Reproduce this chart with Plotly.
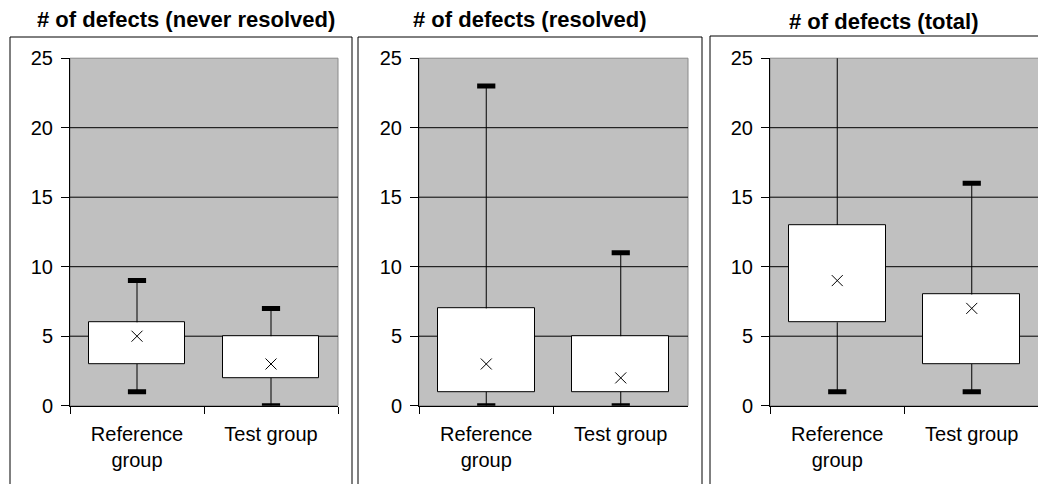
import plotly.graph_objects as go

# ---- data ----
categories = ["Reference<br>group", "Test group"]
panel_titles = ["# of defects (never resolved)", "# of defects (resolved)", "# of defects (total)"]

never_min = [1, 0]
never_q1 = [3, 2]
never_q3 = [6, 5]
never_max = [9, 7]
never_mark = [5, 3]

resolved_min = [0, 0]
resolved_q1 = [1, 1]
resolved_q3 = [7, 5]
resolved_max = [23, 11]
resolved_mark = [3, 2]

total_min = [1, 1]
total_q1 = [6, 3]
total_q3 = [13, 8]
total_max = [28, 16]   # reference-group maximum lies above the axis range
total_mark = [9, 7]

y_ticks = [0, 5, 10, 15, 20, 25]
grid_values = [5, 10, 15, 20]

panels = [
    (never_min, never_q1, never_q3, never_max, never_mark),
    (resolved_min, resolved_q1, resolved_q3, resolved_max, resolved_mark),
    (total_min, total_q1, total_q3, total_max, total_mark),
]

# ---- layout geometry (page pixels; the page body has an 8px margin) ----
OFF = 8
W, H = 1046 - OFF, 484 - OFF


def px(xp):
    return (xp - OFF) / W


def py(yp):
    return (H - (yp - OFF)) / H


plot_x = [(70, 338), (419, 688), (770, 1039)]
plot_y_top, plot_y_bot = 58.2, 405.7
frames = [(10, 352, 37), (358, 702, 37), (710, 1070, 36)]
title_x = [186, 530, 883]
title_y = [19, 19, 21]

FONT = "Liberation Sans, Arial, sans-serif"

fig = go.Figure()
shapes = []
annotations = []

for i, (mn, q1, q3, mx, mk) in enumerate(panels):
    xa = "x" if i == 0 else f"x{i+1}"
    ya = "y" if i == 0 else f"y{i+1}"

    # box body
    fig.add_trace(go.Bar(
        x=categories, y=[b - a for a, b in zip(q1, q3)], base=q1,
        width=0.72, marker=dict(color="white", line=dict(color="black", width=1)),
        xaxis=xa, yaxis=ya, showlegend=False, hoverinfo="skip"))

    # whiskers
    wx, wy = [], []
    for c, a, b, c1, d in zip(categories, mn, q1, q3, mx):
        wx += [c, c, None, c, c, None]
        wy += [c1, d, None, a, b, None]
    fig.add_trace(go.Scatter(
        x=wx, y=wy, mode="lines", line=dict(color="black", width=1),
        xaxis=xa, yaxis=ya, showlegend=False, hoverinfo="skip"))

    # caps
    fig.add_trace(go.Scatter(
        x=categories + categories, y=mn + mx, mode="markers",
        marker=dict(symbol="line-ew", size=13, line=dict(color="black", width=5)),
        xaxis=xa, yaxis=ya, showlegend=False, hoverinfo="skip"))

    # centre mark
    fig.add_trace(go.Scatter(
        x=categories, y=mk, mode="markers",
        marker=dict(symbol="x-thin", size=11, line=dict(color="black", width=1)),
        xaxis=xa, yaxis=ya, showlegend=False, hoverinfo="skip"))

    x0, x1 = plot_x[i]
    dom_x = [px(x0), px(x1)]
    dom_y = [py(plot_y_bot), py(plot_y_top)]
    axkey_x = "xaxis" if i == 0 else f"xaxis{i+1}"
    axkey_y = "yaxis" if i == 0 else f"yaxis{i+1}"
    fig.update_layout(**{
        axkey_x: dict(domain=dom_x, anchor=ya, type="category",
                      categoryorder="array", categoryarray=categories,
                      showline=True, linecolor="black", linewidth=1,
                      ticks="outside", ticklen=7, tickcolor="black", tickson="boundaries",
                      showgrid=False, zeroline=False, fixedrange=True, automargin=False,
                      ticklabelstandoff=10,
                      tickfont=dict(family=FONT, size=20, color="black")),
        axkey_y: dict(domain=dom_y, anchor=xa, range=[0, 25], tickvals=y_ticks,
                      showline=True, linecolor="black", linewidth=1,
                      ticks="outside", ticklen=8, tickcolor="black",
                      showgrid=False, zeroline=False, fixedrange=True, automargin=False,
                      ticklabelstandoff=4,
                      tickfont=dict(family=FONT, size=20, color="black")),
    })

    xd = f"{xa} domain"
    yd = f"{ya} domain"
    # plot area border (gray)
    shapes.append(dict(type="rect", xref=xd, yref=yd, x0=0, x1=1, y0=0, y1=1,
                       line=dict(color="#8a8a8a", width=1), layer="below"))
    # gridlines
    for v in grid_values:
        shapes.append(dict(type="line", xref=xd, yref=ya, x0=0, x1=1, y0=v, y1=v,
                           line=dict(color="black", width=1), layer="below"))
    # chart frame
    fx0, fx1, fy = frames[i]
    shapes.append(dict(type="rect", xref="paper", yref="paper",
                       x0=px(fx0), x1=px(fx1), y0=-0.2, y1=py(fy),
                       line=dict(color="black", width=1), layer="above"))
    annotations.append(dict(text=panel_titles[i], xref="paper", yref="paper",
                            x=px(title_x[i]), y=py(title_y[i]),
                            xanchor="center", yanchor="middle", showarrow=False,
                            font=dict(family=FONT, size=22, color="black", weight="bold")))

fig.update_layout(
    width=W, height=H, autosize=False,
    margin=dict(l=0, r=0, t=0, b=0, autoexpand=False),
    paper_bgcolor="white", plot_bgcolor="#c0c0c0",
    shapes=shapes, annotations=annotations,
    bargap=0, showlegend=False,
    font=dict(family=FONT, color="black"),
)

fig.write_html("out.html", config={"displayModeBar": False})
